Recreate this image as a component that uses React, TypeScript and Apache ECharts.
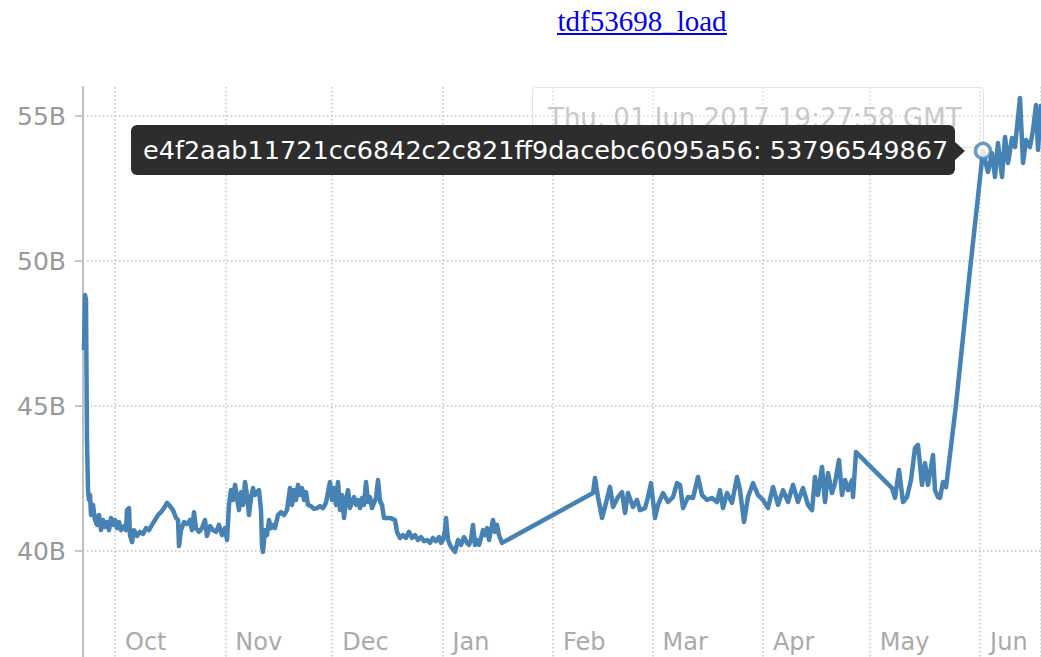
import React, { useEffect, useRef } from 'react';
import * as echarts from 'echarts';

const TITLE = 'tdf53698_load';
const SERIES_NAME = 'e4f2aab11721cc6842c2c821ff9dacebc6095a56';
const HOVER_LABEL = 'Thu, 01 Jun 2017 19:27:58 GMT';
const MONTHS = ['Jan', 'Feb', 'Mar', 'Apr', 'May', 'Jun', 'Jul', 'Aug', 'Sep', 'Oct', 'Nov', 'Dec'];

// time origin of the day offsets below
const START_UTC = Date.UTC(2016, 9, 1);
const DAY_MS = 86400000;
const X_MIN_DAYS = -8.99;
const X_MAX_DAYS = 260.11;
const Y_MIN_B = 36.345;
const Y_MAX_B = 56;

// days after 2016-10-01 (UTC)
const dayOffsets = [
  -8.71, -8.43, -8.15, -7.87, -7.58, -7.30, -7.02, -6.74, -6.18, -5.62, -5.06, -4.49, -3.93, -3.37, -2.81, -2.25, -1.69, -1.12, -0.56,
  0, 0.56, 1.12, 1.69, 2.53, 3.09, 3.37, 3.93, 4.21, 4.78, 5.34, 6.18, 7.02, 7.87, 8.71, 9.55, 10.39, 11.24, 12.08, 12.92, 13.76,
  14.61, 15.45, 16.29, 17.13, 17.70, 17.98, 18.54, 19.38, 20.22, 21.07, 21.63, 22.19, 22.75, 23.60, 24.44, 25.28, 25.84, 26.69,
  27.53, 28.37, 29.21, 30.06, 30.90, 31.46, 32.02, 32.58, 33.15, 33.71, 34.27, 34.83, 35.39, 35.96, 36.52, 37.08, 37.64, 38.20,
  38.76, 39.33, 39.89, 40.45, 41.01, 41.29, 41.57, 42.13, 42.70, 43.26, 43.82, 44.38, 44.94, 45.79, 46.63, 47.47, 48.31, 49.16,
  49.72, 50.28, 50.84, 51.40, 51.97, 52.53, 53.09, 53.65, 54.21, 55.06, 55.90, 56.74, 57.58, 58.43, 59.27, 59.83, 60.39, 60.96,
  61.52, 62.08, 62.64, 63.20, 63.76, 64.33, 64.89, 65.45, 66.01, 66.57, 67.13, 67.70, 68.26, 68.82, 69.38, 69.94, 70.51, 71.07,
  71.63, 72.19, 72.75, 73.31, 73.88, 74.44, 75.00, 75.56, 76.40, 77.25, 78.09, 78.65, 79.21, 80.06, 80.90, 81.74, 82.58, 83.43,
  84.27, 85.11, 85.96, 86.80, 87.64, 88.48, 89.33, 90.17, 91.01, 91.57, 92.13, 92.70, 92.98, 93.54, 94.10, 94.66, 95.51, 96.35,
  97.19, 98.03, 98.88, 99.44, 100.00, 100.56, 101.12, 101.69, 102.25, 102.81, 103.37, 103.93, 104.49, 105.06, 105.62, 106.18,
  106.74, 107.30, 107.87, 108.71,
  134.27, 134.83, 135.67, 136.80, 137.64, 139.04, 139.89, 141.29, 142.42, 143.26, 144.10, 145.51, 146.63, 147.47, 148.88, 149.72,
  150.56, 151.69, 152.53, 153.93, 155.34, 156.74, 157.87, 158.71, 159.55, 160.96, 162.36, 163.76, 164.89, 166.29, 167.70, 169.10,
  169.94, 170.79, 171.91, 173.31, 174.72, 175.56, 176.69, 177.81, 179.21, 180.62, 182.02, 183.43, 184.83, 186.24, 187.64, 189.04,
  190.45, 191.85, 193.26, 194.66, 195.79, 196.63, 197.47, 198.60, 199.44, 200.28, 201.40, 202.25, 203.37, 204.21, 205.06, 205.90,
  207.02, 207.30, 208.15,
  218.26, 219.10, 220.22, 221.35, 222.47, 223.60, 224.72, 225.56, 226.69, 227.53, 228.37, 229.78, 230.34, 231.18, 231.74, 232.58,
  233.43, 236.20, 240.00,
  243.81, 244.38, 245.22, 246.35, 247.19, 248.03, 249.16, 250.00, 250.84, 251.97, 252.81, 254.21, 255.06, 255.90, 257.02, 257.87,
  258.71, 259.27, 260.11,
];

// load, in billions
const valuesB = [
  46.93, 48.83, 48.66, 43.83, 42.10, 41.76, 41.93, 41.24, 41.59, 41.07, 40.90, 41.24, 40.72, 41.07, 40.83, 41.00, 40.72, 41.14, 40.90,
  41.07, 40.79, 41.00, 40.72, 40.86, 40.72, 41.41, 41.48, 40.55, 40.31, 40.72, 40.52, 40.66, 40.59, 40.79, 40.72, 40.90, 41.07, 41.24, 41.34, 41.48,
  41.66, 41.55, 41.41, 41.14, 41.07, 40.17, 40.72, 41.00, 40.93, 41.07, 40.72, 41.34, 40.79, 40.66, 40.79, 41.07, 40.52, 40.86,
  40.72, 40.66, 40.90, 40.55, 40.79, 40.38, 41.59, 42.10, 41.76, 42.28, 41.83, 41.41, 42.03, 41.59, 42.38, 41.93, 41.24, 41.83,
  42.17, 41.93, 42.03, 42.10, 41.41, 40.21, 39.97, 40.72, 40.55, 41.07, 40.79, 40.90, 40.79, 41.24, 41.34, 41.24, 41.41, 42.17,
  41.59, 42.10, 41.76, 42.28, 41.93, 42.17, 41.76, 42.03, 41.59, 41.55, 41.45, 41.48, 41.55, 41.48, 41.66, 42.03, 42.38, 41.76,
  42.17, 41.59, 42.38, 41.41, 41.93, 41.14, 41.76, 42.10, 41.48, 41.69, 41.86, 41.59, 41.76, 41.48, 41.83, 41.59, 42.38, 41.69,
  41.86, 41.48, 41.66, 41.83, 42.45, 41.72, 41.59, 41.14, 41.14, 41.14, 41.10, 41.07, 40.66, 40.45, 40.55, 40.45, 40.66, 40.45,
  40.55, 40.38, 40.48, 40.34, 40.38, 40.28, 40.45, 40.34, 40.48, 40.28, 40.38, 40.72, 41.14, 40.38, 40.21, 40.10, 39.97, 40.38,
  40.21, 40.48, 40.28, 40.21, 40.38, 40.90, 40.21, 40.38, 40.21, 40.45, 40.72, 40.55, 40.79, 40.38, 40.72, 41.07,
  40.66, 40.90, 40.55, 40.28,
  42.00, 42.52, 41.86, 41.14, 41.52, 42.21, 41.52, 41.86, 42.03, 41.31, 42.00, 41.52, 41.76, 41.41, 41.48, 41.86,
  42.34, 41.14, 41.59, 42.00, 41.69, 41.86, 42.34, 42.28, 41.48, 41.86, 41.83, 42.55, 41.93, 41.76, 41.83, 41.69,
  42.10, 41.48, 42.00, 41.66, 42.55, 42.10, 41.00, 41.86, 42.34, 41.93, 41.76, 41.48, 42.21, 41.59, 42.10, 41.69,
  42.28, 41.69, 42.17, 41.59, 41.41, 42.55, 41.93, 42.90, 41.69, 42.69, 42.00, 42.34, 43.14, 41.93, 42.45, 42.10,
  42.45, 41.86, 43.41,
  42.17, 41.83, 42.79, 41.69, 41.86, 42.45, 43.55, 43.66, 42.28, 43.03, 42.28, 43.31, 42.10, 41.86, 41.83, 42.38,
  42.20, 45.00, 49.50,
  53.796549867, 53.48, 53.07, 53.72, 52.90, 54.07, 52.90, 54.28, 53.38, 54.24, 53.93, 55.62, 53.38, 54.17, 53.93, 54.52,
  55.38, 53.83, 55.41,
];

const HOVER_DAY = 243.81;
const HOVER_VALUE = 53796549867;

export default function App() {
  const ref = useRef<HTMLDivElement>(null);

  useEffect(() => {
    if (!ref.current) return;
    const chart = echarts.init(ref.current, undefined, { renderer: 'svg' });
    const data = dayOffsets.map((d, i) => [START_UTC + d * DAY_MS, valuesB[i] * 1e9]);
    const gridLine = { color: '#c4c4c4', width: 1.5, type: [1.5, 2.5] as number[] };

    chart.setOption({
      animation: false,
      useUTC: true,
      grid: { left: 83, right: 0, top: 87, bottom: 0, containLabel: false },
      xAxis: {
        type: 'time',
        min: START_UTC + X_MIN_DAYS * DAY_MS,
        max: START_UTC + X_MAX_DAYS * DAY_MS,
        splitNumber: 9,
        axisLine: { show: false },
        axisTick: { show: false },
        axisLabel: {
          inside: true,
          margin: 3,
          align: 'left',
          padding: [0, 0, 0, 10],
          color: '#aaaaaa',
          fontSize: 24,
          fontFamily: 'DejaVu Sans',
          hideOverlap: false,
          formatter: (v: number) => MONTHS[new Date(v).getUTCMonth()],
        },
        splitLine: { show: true, lineStyle: gridLine },
      },
      yAxis: {
        type: 'value',
        min: Y_MIN_B * 1e9,
        max: Y_MAX_B * 1e9,
        splitNumber: 4,
        axisLine: { show: true, lineStyle: { color: '#c0c0c0', width: 2 } },
        axisTick: { show: true, length: 8, lineStyle: { color: '#c8c8c8', width: 2 } },
        axisLabel: {
          margin: 17,
          color: '#999999',
          fontSize: 25,
          fontFamily: 'DejaVu Sans',
          showMinLabel: false,
          showMaxLabel: false,
          formatter: (v: number) => `${Math.round(v / 1e9)}B`,
        },
        splitLine: { show: true, showMinLine: false, showMaxLine: false, lineStyle: gridLine },
      },
      series: [
        {
          name: SERIES_NAME,
          type: 'line',
          data,
          showSymbol: false,
          lineStyle: { color: '#4682b4', width: 4.5, join: 'round' },
          itemStyle: { color: '#4682b4' },
          z: 3,
        },
        {
          type: 'scatter',
          data: [[START_UTC + HOVER_DAY * DAY_MS, HOVER_VALUE]],
          symbol: 'circle',
          symbolSize: 15,
          itemStyle: { color: '#ffffff', borderColor: '#4682b4', borderWidth: 3.5 },
          z: 20,
        },
      ],
      graphic: [
        {
          type: 'text',
          x: 642,
          y: 21,
          z: 10,
          style: {
            text: TITLE,
            fill: '#0000ee',
            fontSize: 29,
            fontFamily: 'Liberation Serif',
            align: 'center',
            verticalAlign: 'middle',
          },
        },
        {
          type: 'line',
          z: 10,
          shape: { x1: 557, y1: 34, x2: 727, y2: 34 },
          style: { stroke: '#0000ee', lineWidth: 2 },
        },
        {
          type: 'rect',
          z: 10,
          shape: { x: 532.5, y: 87.5, width: 451, height: 60, r: 3 },
          style: { fill: 'rgba(255,255,255,0.35)', stroke: '#e3e3e3', lineWidth: 1 },
        },
        {
          type: 'text',
          x: 548,
          y: 118,
          z: 11,
          style: {
            text: HOVER_LABEL,
            fill: '#c8c8c8',
            fontSize: 26,
            fontFamily: 'DejaVu Sans',
            verticalAlign: 'middle',
          },
        },
        {
          type: 'rect',
          z: 12,
          shape: { x: 131, y: 125, width: 824, height: 50, r: 6 },
          style: { fill: '#2d2d2d' },
        },
        {
          type: 'polygon',
          z: 12,
          shape: { points: [[955, 142], [965, 151], [955, 160]] },
          style: { fill: '#2d2d2d' },
        },
        {
          type: 'text',
          x: 143,
          y: 150,
          z: 13,
          style: {
            text: `${SERIES_NAME}: ${HOVER_VALUE}`,
            fill: '#ffffff',
            fontSize: 25.5,
            fontFamily: 'DejaVu Sans',
            verticalAlign: 'middle',
          },
        },
      ],
    });

    return () => chart.dispose();
  }, []);

  return (
    <div
      ref={ref}
      style={{ position: 'absolute', left: 0, top: 0, width: 1041, height: 657, background: '#fff' }}
    />
  );
}
